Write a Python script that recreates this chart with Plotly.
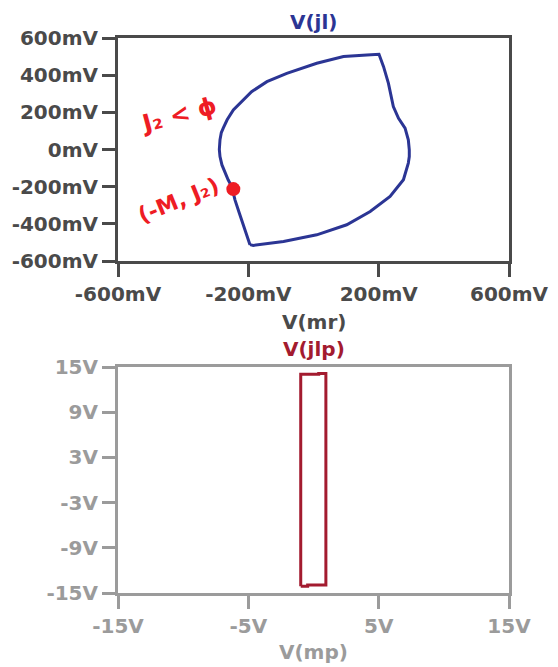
import plotly.graph_objects as go

# page body keeps an 8px margin, so the figure is drawn 8px smaller and shifted
OFF = 8
W, H = 558 - OFF, 667 - OFF

# ---- Data: top plot, V(jl) vs V(mr), in mV ----
mr_mV = [-195, -215, -228, -241, -251, -262, -271, -281, -287, -289, -287, -283, -277,
         -265, -246, -222, -190, -143, -82, 10, 92, 164, 197, 201, 215, 230, 245, 252,
         261, 281, 291, 294, 294, 291, 276, 235, 174, 102, 10, -92, -185, -195]
jl_mV = [-512, -414, -340, -271, -199, -163, -127, -83, -38, 0, 52, 90, 115,
         160, 213, 255, 311, 365, 410, 464, 500, 509, 514, 512, 446, 356, 231, 205,
         168, 115, 52, -2, -38, -73, -163, -253, -334, -405, -459, -495, -516, -512]

# marked point
dot_mr = [-246]
dot_jl = [-213]

# ---- Data: bottom plot, V(jlp) vs V(mp), in V ----
mp_V = [-0.98, -0.98, 0.40, 0.40, 0.95, 0.95, -0.45, -0.45, -0.98]
jlp_V = [-14.1, 14.05, 14.05, 14.15, 14.15, -13.95, -13.95, -14.1, -14.1]

top_xticks = [-600, -200, 200, 600]
top_xlabels = ["-600mV", "-200mV", "200mV", "600mV"]
top_yticks = [-600, -400, -200, 0, 200, 400, 600]
top_ylabels = ["-600mV", "-400mV", "-200mV", "0mV", "200mV", "400mV", "600mV"]
bot_xticks = [-15, -5, 5, 15]
bot_xlabels = ["-15V", "-5V", "5V", "15V"]
bot_yticks = [-15, -9, -3, 3, 9, 15]
bot_ylabels = ["-15V", "-9V", "-3V", "3V", "9V", "15V"]

BLUE = "#2b3594"
RED = "#a31b2f"
DARK = "#4a4a4a"
GRAY = "#9b9b9b"
INK = "#ee1c24"


def px_x(p):
    return (p - OFF) / W


def px_y(p):
    return 1 - (p - OFF) / H


fig = go.Figure()
fig.add_trace(go.Scatter(x=mr_mV, y=jl_mV, mode="lines",
                         line=dict(color=BLUE, width=3), xaxis="x", yaxis="y",
                         showlegend=False, hoverinfo="skip"))
fig.add_trace(go.Scatter(x=dot_mr, y=dot_jl, mode="markers",
                         marker=dict(color=INK, size=14), xaxis="x", yaxis="y",
                         showlegend=False, hoverinfo="skip"))
fig.add_trace(go.Scatter(x=mp_V, y=jlp_V, mode="lines",
                         line=dict(color=RED, width=3), xaxis="x2", yaxis="y2",
                         showlegend=False, hoverinfo="skip"))

tickfont_top = dict(family="DejaVu Sans", size=20, color=DARK, weight="bold")
tickfont_bot = dict(family="DejaVu Sans", size=20, color=GRAY, weight="bold")

common = dict(showline=True, mirror=True, linewidth=3, showgrid=False, zeroline=False,
              ticks="outside", ticklen=13, tickwidth=3, automargin=False, fixedrange=True)

fig.update_layout(
    width=W, height=H,
    margin=dict(l=0, r=0, t=0, b=0),
    paper_bgcolor="white", plot_bgcolor="white",
    xaxis=dict(domain=[px_x(118), px_x(509)], range=[-600, 600], anchor="y",
               tickvals=top_xticks, ticktext=top_xlabels, linecolor=DARK, tickcolor=DARK,
               tickfont=tickfont_top, **common),
    yaxis=dict(domain=[px_y(261), px_y(38)], range=[-600, 600], anchor="x",
               tickvals=top_yticks, ticktext=top_ylabels, linecolor=DARK, tickcolor=DARK,
               tickfont=tickfont_top, **common),
    xaxis2=dict(domain=[px_x(118), px_x(509)], range=[-15, 15], anchor="y2",
                tickvals=bot_xticks, ticktext=bot_xlabels, linecolor=GRAY, tickcolor=GRAY,
                tickfont=tickfont_bot, **common),
    yaxis2=dict(domain=[px_y(593), px_y(367)], range=[-15, 15], anchor="x2",
                tickvals=bot_yticks, ticktext=bot_ylabels, linecolor=GRAY, tickcolor=GRAY,
                tickfont=tickfont_bot, **common),
)

anns = [
    ("V(jl)", 313.5, 22, BLUE),
    ("V(mr)", 313.5, 322, DARK),
    ("V(jlp)", 313.5, 349, RED),
    ("V(mp)", 313.5, 652, GRAY),
]
for txt, x, y, c in anns:
    fig.add_annotation(text=txt, x=px_x(x), y=px_y(y), xref="paper", yref="paper",
                       showarrow=False, xanchor="center", yanchor="middle",
                       font=dict(family="DejaVu Sans", size=20, color=c, weight="bold"))

# hand-written red notes
fig.add_annotation(text="J₂ < ϕ", x=px_x(178), y=px_y(115), xref="paper", yref="paper",
                   showarrow=False, textangle=-15, xanchor="center", yanchor="middle",
                   font=dict(family="DejaVu Sans", size=24, color=INK, weight="bold"))
fig.add_annotation(text="(-M, J₂)", x=px_x(178), y=px_y(200), xref="paper", yref="paper",
                   showarrow=False, textangle=-22, xanchor="center", yanchor="middle",
                   font=dict(family="DejaVu Sans", size=22, color=INK, weight="bold"))

fig.write_html("out.html")
